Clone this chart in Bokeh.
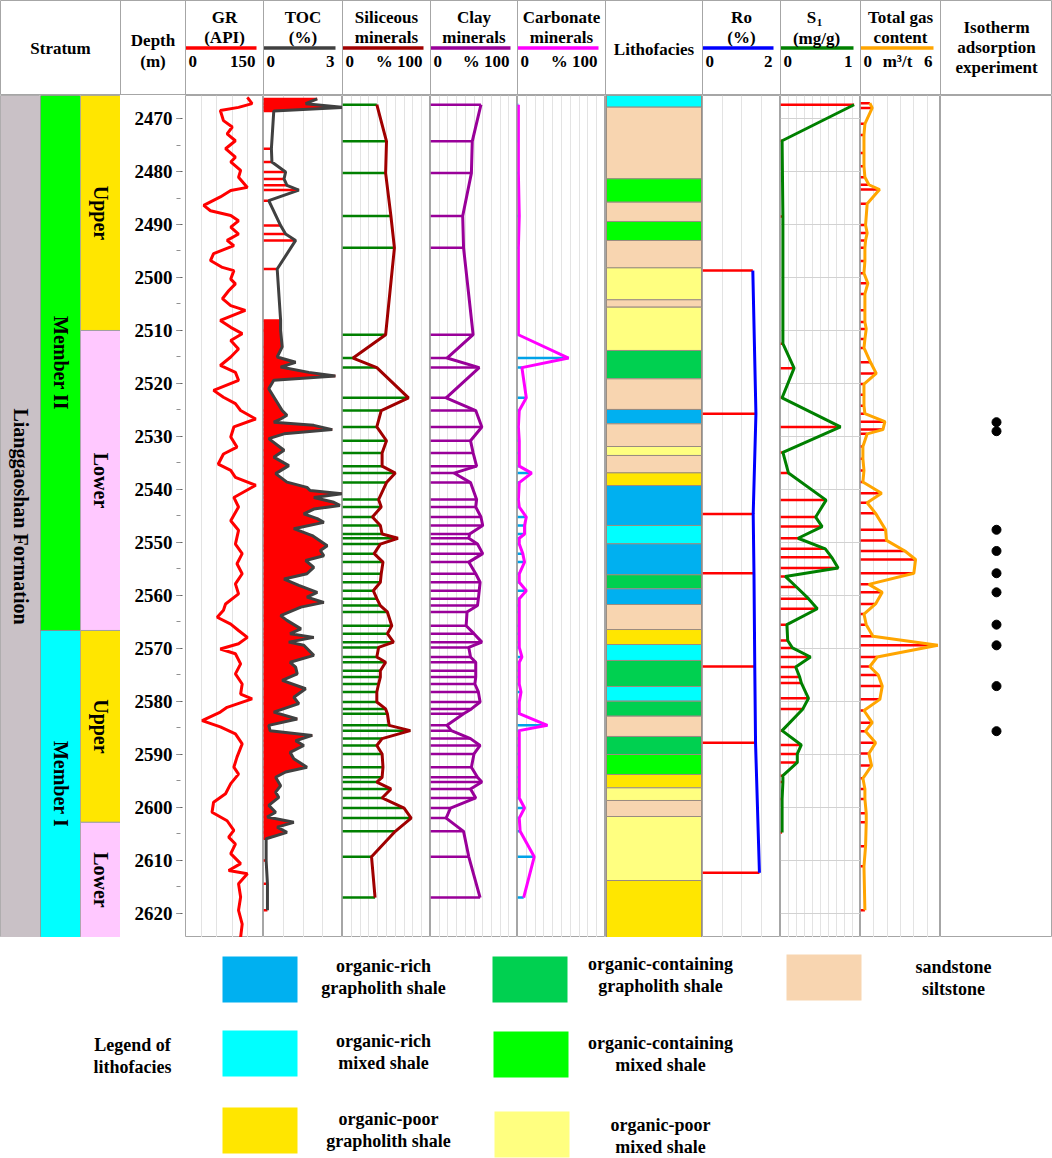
import math
from bokeh.plotting import figure
from bokeh.models import Range1d, FixedTicker, Span
from bokeh.layouts import row, column
from bokeh.embed import file_html
from bokeh.resources import INLINE
from bokeh.core.properties import value

# ------------------------------------------------------------------ data
DEPTH_TOP = 2465.66
DEPTH_BOTTOM = 2624.53
DEPTH_LABELS = list(range(2470, 2621, 10))
DEPTH_MINOR = list(range(2465, 2626, 5))

FORMATION = "Lianggaoshan Formation"
MEMBER_NAMES = ["Member II", "Member I"]
MEMBER_TOP = [2465.66, 2566.6]
MEMBER_BASE = [2566.6, 2624.53]
MEMBER_COLORS = ["#00FF00", "#00FFFF"]
SUB_NAMES = ["Upper", "Lower", "Upper", "Lower"]
SUB_TOP = [2465.66, 2510.0, 2566.6, 2602.8]
SUB_BASE = [2510.0, 2566.6, 2602.8, 2624.53]
SUB_COLORS = {"Upper": "#FFE600", "Lower": "#FFC8FF"}

GR_DEPTH = [2466.0, 2467.2, 2467.9, 2468.5, 2470.4, 2471.6, 2472.9, 2474.2, 2475.7, 2477.3,
            2478.2, 2479.8, 2481.1, 2483.0, 2483.6, 2484.8, 2486.4, 2487.4, 2488.3, 2489.3,
            2490.5, 2491.8, 2493.0, 2494.0, 2495.5, 2496.8, 2498.1, 2498.7, 2500.3, 2501.2,
            2502.5, 2504.0, 2505.3, 2506.2, 2508.1, 2509.4, 2510.6, 2511.9, 2513.5, 2515.0,
            2516.6, 2517.9, 2519.4, 2521.3, 2522.6, 2523.8, 2525.1, 2526.7, 2528.2, 2530.1,
            2532.0, 2533.3, 2535.2, 2536.4, 2537.7, 2539.2, 2541.5, 2543.3, 2545.9, 2547.7,
            2550.3, 2552.1, 2554.0, 2555.9, 2557.8, 2559.7, 2561.6, 2562.8, 2564.1, 2565.4,
            2566.6, 2567.9, 2569.1, 2570.1, 2571.0, 2572.9, 2574.8, 2576.7, 2578.6, 2579.5,
            2581.1, 2582.0, 2583.6, 2584.8, 2586.1, 2588.0, 2590.5, 2592.4, 2593.7, 2595.5,
            2597.4, 2599.0, 2600.9, 2602.5, 2604.3, 2605.6, 2606.9, 2608.7, 2610.6, 2611.9,
            2612.5, 2614.4, 2616.9, 2619.4, 2622.0, 2624.5]
GR_API = [119, 128, 102, 67, 73, 90, 80, 96, 77, 96,
          87, 106, 102, 119, 87, 67, 35, 48, 87, 102,
          87, 102, 80, 93, 54, 48, 71, 93, 87, 96,
          83, 71, 87, 115, 67, 87, 109, 87, 102, 87,
          67, 96, 102, 54, 73, 96, 106, 135, 93, 87,
          99, 73, 63, 87, 96, 135, 93, 102, 87, 102,
          96, 109, 99, 109, 96, 102, 77, 73, 61, 87,
          102, 119, 102, 67, 96, 106, 96, 109, 106, 128,
          80, 67, 32, 67, 96, 109, 99, 93, 102, 87,
          77, 54, 51, 80, 93, 83, 96, 87, 106, 83,
          119, 102, 106, 102, 109, 106]

TOC_DEPTH = [2466.3, 2467.2, 2467.9, 2468.6, 2475.7, 2478.2, 2480.1, 2481.4, 2482.6, 2483.5,
             2485.5, 2490.2, 2491.8, 2493.0, 2498.4, 2508.1, 2510.0, 2513.1, 2515.0, 2516.0,
             2516.9, 2517.9, 2518.6, 2519.4, 2521.0, 2525.1, 2526.0, 2526.7, 2527.3, 2527.9,
             2528.7, 2529.5, 2530.4, 2532.6, 2533.9, 2535.5, 2537.0, 2538.6, 2539.6, 2540.2,
             2540.8, 2541.5, 2542.4, 2543.0, 2543.7, 2544.6, 2545.5, 2546.2, 2547.4, 2548.7,
             2550.6, 2551.5, 2552.5, 2553.4, 2554.7, 2555.9, 2556.9, 2558.1, 2559.4, 2560.3,
             2561.3, 2562.2, 2563.8, 2564.7, 2566.3, 2567.2, 2567.9, 2568.8, 2569.4, 2571.3,
             2572.6, 2573.5, 2574.8, 2576.0, 2577.6, 2579.2, 2580.4, 2582.0, 2583.3, 2584.5,
             2585.5, 2586.4, 2587.4, 2588.3, 2589.6, 2590.8, 2592.4, 2593.3, 2594.3, 2595.9,
             2597.1, 2598.1, 2599.6, 2600.9, 2601.8, 2602.8, 2603.7, 2604.7, 2605.9, 2610.0,
             2614.4, 2619.4]
TOC_PCT = [2.04, 1.60, 3.00, 0.39, 0.30, 0.32, 0.84, 0.78, 0.89, 1.34,
           0.20, 0.65, 0.84, 1.22, 0.52, 0.65, 0.65, 0.71, 0.52, 1.22,
           0.65, 1.72, 2.73, 0.39, 0.20, 0.71, 0.89, 0.65, 0.39, 1.91,
           2.61, 0.78, 0.20, 0.78, 0.39, 0.96, 0.46, 0.89, 1.65, 1.77,
           3.00, 1.91, 2.67, 2.90, 1.91, 1.53, 2.04, 2.29, 1.15, 1.85,
           2.42, 2.16, 2.29, 1.60, 1.91, 1.65, 0.78, 1.34, 2.04, 1.65,
           2.29, 1.42, 0.65, 0.89, 1.42, 1.01, 1.91, 0.96, 1.53, 1.91,
           1.01, 1.22, 1.28, 0.71, 1.60, 1.15, 1.34, 0.39, 1.28, 0.20,
           0.25, 1.85, 1.22, 1.53, 1.01, 1.15, 1.65, 0.84, 0.46, 0.65,
           0.46, 0.58, 0.20, 0.46, 0.14, 1.15, 0.52, 0.89, 0.10, 0.10,
           0.15, 0.15]
TOC_DENSE_INTERVALS = [(2466.0, 2469.0), (2508.0, 2606.0)]

XRD_DEPTH = [2467.4, 2474.3, 2480.3, 2488.4, 2494.4, 2510.8, 2515.2, 2517.0, 2522.7, 2525.1,
             2528.2, 2530.8, 2533.1, 2535.6, 2536.9, 2538.7, 2541.9, 2543.3, 2545.2, 2546.8,
             2548.4, 2549.2, 2550.3, 2552.1, 2553.7, 2555.9, 2557.5, 2559.1, 2560.6, 2561.9,
             2563.1, 2565.7, 2567.2, 2568.8, 2569.8, 2571.6, 2572.6, 2574.2, 2575.4, 2576.7,
             2578.2, 2580.1, 2581.4, 2582.3, 2584.5, 2585.5, 2587.0, 2588.3, 2589.9, 2592.4,
             2594.3, 2595.2, 2596.5, 2598.2, 2600.1, 2602.0, 2604.5, 2609.3, 2617.0]
SILICEOUS = [39, 50, 49, 55, 59, 49, 12, 39, 75, 44,
             39, 50, 45, 45, 60, 50, 41, 44, 34, 43,
             45, 63, 43, 36, 46, 44, 43, 35, 39, 43,
             51, 56, 51, 58, 41, 39, 49, 43, 43, 41,
             39, 39, 49, 51, 53, 77, 45, 39, 45, 46,
             45, 39, 55, 45, 70, 78, 60, 33, 37]
CLAY = [58, 48, 47, 37, 38, 49, 19, 56, 18, 52,
        59, 46, 49, 53, 27, 46, 53, 52, 58, 60,
        45, 44, 54, 60, 44, 52, 57, 56, 55, 54,
        42, 41, 50, 59, 44, 46, 52, 52, 52, 51,
        55, 57, 47, 38, 19, 24, 46, 57, 50, 47,
        54, 59, 46, 52, 23, 18, 38, 44, 57]
CARBONATE = [1, 1, 1, 2, 1, 1, 58, 5, 10, 2,
             1, 2, 2, 2, 16, 2, 1, 2, 10, 8,
             8, 2, 2, 6, 8, 2, 2, 10, 2, 2,
             2, 2, 2, 2, 2, 5, 2, 2, 2, 2,
             4, 2, 2, 2, 34, 2, 2, 2, 2, 2,
             2, 2, 2, 2, 8, 2, 3, 19, 7]

LITHO_KEYS = ["rich_g", "cont_g", "sand", "rich_m", "cont_m", "poor_g", "poor_m"]
LITHO_LABELS = [["organic-rich", "grapholith shale"], ["organic-containing", "grapholith shale"],
                ["sandstone", "siltstone"], ["organic-rich", "mixed shale"],
                ["organic-containing", "mixed shale"], ["organic-poor", "grapholith shale"],
                ["organic-poor", "mixed shale"]]
LITHO_COLORS = ["#00B0F0", "#00D050", "#F8D5B0", "#00FFFF", "#00FF00", "#FFE600", "#FFFF80"]
LITHO_TOP = [2465.66, 2467.86, 2481.38, 2485.79, 2489.43, 2493.02, 2498.18, 2504.21, 2505.6, 2513.77,
             2519.12, 2524.9, 2527.61, 2531.89, 2533.58, 2536.86, 2539.25, 2546.79, 2550.25, 2556.10,
             2558.74, 2561.70, 2566.42, 2569.25, 2572.26, 2577.17, 2579.94, 2582.77, 2586.60, 2590.0,
             2593.77, 2596.29, 2598.68, 2601.7, 2613.78]
LITHO_TYPE = ["rich_m", "sand", "cont_m", "sand", "cont_m", "sand", "poor_m", "sand", "poor_m", "cont_g",
              "sand", "rich_g", "sand", "poor_m", "sand", "poor_g", "rich_g", "rich_m", "rich_g", "cont_g",
              "rich_g", "sand", "poor_g", "rich_m", "cont_g", "rich_m", "cont_g", "sand", "cont_g", "cont_m",
              "poor_g", "poor_m", "sand", "poor_m", "poor_g"]

RO_DEPTH = [2498.7, 2525.7, 2544.6, 2555.8, 2573.4, 2587.8, 2612.3]
RO_PCT = [1.29, 1.37, 1.30, 1.32, 1.34, 1.36, 1.46]

S1_DEPTH = [2467.4, 2474.2, 2488.5, 2512.5, 2517.1, 2522.7, 2528.2, 2533.0, 2536.9, 2542.0,
            2545.2, 2547.0, 2549.2, 2551.2, 2552.8, 2554.8, 2556.4, 2558.4, 2560.6, 2562.5,
            2565.5, 2568.5, 2569.9, 2571.6, 2573.5, 2575.4, 2576.5, 2579.4, 2581.4, 2585.5,
            2588.2, 2589.9, 2591.5, 2594.0, 2595.2, 2598.4, 2604.7]
S1_MG = [0.92, 0.02, 0.03, 0.03, 0.17, 0.02, 0.75, 0.03, 0.10, 0.57,
         0.44, 0.52, 0.22, 0.56, 0.64, 0.72, 0.06, 0.20, 0.35, 0.46,
         0.08, 0.09, 0.15, 0.375, 0.19, 0.24, 0.26, 0.35, 0.28, 0.02,
         0.26, 0.21, 0.21, 0.03, 0.03, 0.02, 0.02]

GAS_DEPTH = [2467.1, 2468.0, 2471.0, 2473.1, 2476.5, 2479.0, 2481.1, 2482.5, 2483.4, 2486.1,
             2490.1, 2491.6, 2493.0, 2494.4, 2496.9, 2499.2, 2501.1, 2503.1, 2506.2, 2508.4,
             2509.7, 2511.6, 2513.3, 2516.0, 2518.1, 2520.1, 2522.1, 2524.2, 2525.7, 2527.2,
             2528.7, 2529.5, 2531.9, 2534.2, 2536.4, 2538.6, 2540.7, 2542.5, 2544.5, 2547.6,
             2549.6, 2551.6, 2553.2, 2555.8, 2557.9, 2559.4, 2561.6, 2563.5, 2565.5, 2567.7,
             2569.4, 2571.6, 2573.4, 2575.0, 2577.1, 2579.6, 2581.7, 2584.0, 2585.6, 2587.8,
             2589.8, 2592.1, 2594.5, 2596.5, 2598.4, 2601.1, 2602.8, 2607.3, 2611.1, 2619.4]
GAS_M3T = [0.70, 0.88, 0.33, 0.26, 0.26, 0.26, 0.33, 0.63, 1.43, 0.50,
           0.38, 0.50, 0.38, 0.33, 0.33, 0.26, 0.55, 0.33, 0.33, 0.33,
           0.43, 0.33, 0.26, 0.75, 1.18, 0.26, 0.26, 0.26, 0.33, 1.83,
           1.68, 0.50, 0.18, 0.18, 0.26, 0.18, 1.58, 0.50, 1.13, 1.88,
           1.95, 3.33, 4.13, 4.00, 0.63, 1.63, 1.13, 0.26, 0.43, 0.93,
           5.80, 1.25, 0.70, 1.33, 1.63, 1.45, 0.26, 0.88, 0.38, 1.13,
           0.63, 0.83, 0.18, 0.33, 0.33, 0.43, 0.43, 0.38, 0.26, 0.33]

ISO_DEPTH = [2527.3, 2529.0, 2547.6, 2551.6, 2555.8, 2559.4, 2565.5, 2569.4, 2577.1, 2585.6]

# track header captions and scales
TRACK_TITLE = {"GR": ("GR", "(API)"), "TOC": ("TOC", "(%)"), "SIL": ("Siliceous", "minerals"),
               "CLAY": ("Clay", "minerals"), "CARB": ("Carbonate", "minerals"), "RO": ("Ro", "(%)"),
               "S1": ("S", "(mg/g)"), "GAS": ("Total gas", "content")}
TRACK_MIN = {"GR": 0, "TOC": 0, "SIL": 0, "CLAY": 0, "CARB": 0, "RO": 0, "S1": 0, "GAS": 0}
TRACK_MAX = {"GR": 150, "TOC": 3, "SIL": 100, "CLAY": 100, "CARB": 100, "RO": 2, "S1": 1, "GAS": 6}
TRACK_MAX_LABEL = {"GR": "150", "TOC": "3", "SIL": "% 100", "CLAY": "% 100", "CARB": "% 100",
                   "RO": "2", "S1": "1", "GAS": "6"}
TRACK_COLOR = {"GR": "#FF0000", "TOC": "#404040", "SIL": "#A00000", "CLAY": "#990099",
               "CARB": "#FF00FF", "RO": "#0000FF", "S1": "#008000", "GAS": "#FFA500"}

# ------------------------------------------------------------------ layout / style
FONT = value("Liberation Serif")
EDGES = [0, 120, 185, 263, 342, 430, 517, 605, 702, 780, 860, 940, 1052]
COLS = ["STRAT", "DEPTH", "GR", "TOC", "SIL", "CLAY", "CARB", "LITHO", "RO", "S1", "GAS", "ISO"]
STRAT_W = [40, 40, 40]
H_HEAD, H_TRACK, H_LEG = 95, 842, 221
BORDER = "#A6A6A6"
GRIDC = "#E3E3E3"
BAR_RED = "#FF0000"


def txt(**kw):
    d = dict(text_font=FONT, text_font_style="bold", text_font_size="17px", text_color="#000000",
             text_align="center", text_baseline="middle")
    d.update(kw)
    return d


yr = Range1d(start=DEPTH_BOTTOM, end=DEPTH_TOP)


def col_width(key):
    i = COLS.index(key)
    return EDGES[i + 1] - EDGES[i]


def frame(width, x0, x1, xticks=None, yticks=None, outline=True, yaxis=False, **kw):
    p = figure(width=width, height=H_TRACK, x_range=Range1d(x0, x1), y_range=yr,
               toolbar_location=None, x_axis_location=None,
               y_axis_location="left" if yaxis else None,
               min_border=0, output_backend="svg", **kw)
    p.outline_line_color = BORDER if outline else None
    p.background_fill_color = "white"
    p.border_fill_color = "white"
    if xticks:
        p.xgrid.ticker = FixedTicker(ticks=list(xticks))
        p.xgrid.grid_line_color = GRIDC
    else:
        p.xgrid.visible = False
    if yticks:
        p.ygrid.ticker = FixedTicker(ticks=list(yticks))
        p.ygrid.grid_line_color = "#D2D2D2"
    else:
        p.ygrid.visible = False
    return p


def bars(p, d, v, color, w=2.5):
    p.segment(x0=[0] * len(d), y0=d, x1=v, y1=d, line_color=color, line_width=w)


def ticks_for(key, n):
    hi = TRACK_MAX[key]
    return [hi * k / n for k in range(1, n)]


# ---- stratum columns
ROT = txt(text_font_size="20px")
s_form = frame(STRAT_W[0], 0, 1)
s_form.quad(left=0, right=1, top=DEPTH_TOP, bottom=DEPTH_BOTTOM, fill_color="#C9C1C6", line_color=None)
s_form.text(x=[0.5], y=[(DEPTH_TOP + DEPTH_BOTTOM) / 2], text=[FORMATION], angle=-math.pi / 2, **ROT)

s_mem = frame(STRAT_W[1], 0, 1)
s_mem.quad(left=0, right=1, top=MEMBER_TOP, bottom=MEMBER_BASE, fill_color=MEMBER_COLORS,
           line_color="#8C8C8C", line_width=1)
s_mem.text(x=[0.5] * len(MEMBER_NAMES), y=[(a + b) / 2 for a, b in zip(MEMBER_TOP, MEMBER_BASE)],
           text=MEMBER_NAMES, angle=-math.pi / 2, **ROT)

s_sub = frame(STRAT_W[2], 0, 1)
s_sub.quad(left=0, right=1, top=SUB_TOP, bottom=SUB_BASE, fill_color=[SUB_COLORS[n] for n in SUB_NAMES],
           line_color="#A0A0A0", line_width=1)
s_sub.text(x=[0.5] * len(SUB_NAMES), y=[(a + b) / 2 for a, b in zip(SUB_TOP, SUB_BASE)],
           text=SUB_NAMES, angle=-math.pi / 2, **ROT)

# ---- depth column
dp = frame(col_width("DEPTH"), 0, 1, outline=False, yaxis=True, min_border_left=56)
ax = dp.yaxis[0]
ax.ticker = FixedTicker(ticks=DEPTH_LABELS, minor_ticks=DEPTH_MINOR)
ax.axis_line_color = None
ax.major_tick_in = 6
ax.major_tick_out = 0
ax.minor_tick_in = 4
ax.minor_tick_out = 0
ax.major_tick_line_color = "#606060"
ax.minor_tick_line_color = "#909090"
ax.major_label_standoff = 4
ax.major_label_text_font = "Liberation Serif"
ax.major_label_text_font_style = "bold"
ax.major_label_text_font_size = "19px"
ax.major_label_text_color = "#000000"

# ---- GR
gr = frame(col_width("GR"), 0, TRACK_MAX["GR"], xticks=ticks_for("GR", 5))
gr.line(GR_API, GR_DEPTH, line_color=TRACK_COLOR["GR"], line_width=3)

# ---- TOC
toc = frame(col_width("TOC"), 0, TRACK_MAX["TOC"], xticks=ticks_for("TOC", 4))
for lo, hi in TOC_DENSE_INTERVALS:
    dd = [d for d in TOC_DEPTH if lo <= d <= hi]
    vv = [v for d, v in zip(TOC_DEPTH, TOC_PCT) if lo <= d <= hi]
    toc.harea(x1=[0] * len(dd), x2=vv, y=dd, fill_color=BAR_RED)
bars(toc, TOC_DEPTH, TOC_PCT, BAR_RED, 2.5)
toc.line(TOC_PCT, TOC_DEPTH, line_color=TRACK_COLOR["TOC"], line_width=3)

# ---- minerals
sil = frame(col_width("SIL"), 0, 100, xticks=ticks_for("SIL", 10))
bars(sil, XRD_DEPTH, SILICEOUS, "#008000", 2.5)
sil.line(SILICEOUS, XRD_DEPTH, line_color=TRACK_COLOR["SIL"], line_width=3)

clay = frame(col_width("CLAY"), 0, 100, xticks=ticks_for("CLAY", 10))
bars(clay, XRD_DEPTH, CLAY, "#990099", 2.5)
clay.line(CLAY, XRD_DEPTH, line_color=TRACK_COLOR["CLAY"], line_width=3)

carb = frame(col_width("CARB"), 0, 100, xticks=ticks_for("CARB", 10))
bars(carb, XRD_DEPTH, CARBONATE, "#00A2E8", 2.5)
carb.line(CARBONATE, XRD_DEPTH, line_color=TRACK_COLOR["CARB"], line_width=3)

# ---- lithofacies
lith = frame(col_width("LITHO"), 0, 1)
lith_base = LITHO_TOP[1:] + [DEPTH_BOTTOM]
cmap = dict(zip(LITHO_KEYS, LITHO_COLORS))
lith.quad(left=0.01, right=0.99, top=LITHO_TOP, bottom=lith_base,
          fill_color=[cmap[t] for t in LITHO_TYPE], line_color="#9A8C80", line_width=1)

# ---- Ro
ro = frame(col_width("RO"), 0, TRACK_MAX["RO"], xticks=ticks_for("RO", 4))
bars(ro, RO_DEPTH, RO_PCT, BAR_RED, 2.5)
ro.line(RO_PCT, RO_DEPTH, line_color=TRACK_COLOR["RO"], line_width=3)

# ---- S1
s1 = frame(col_width("S1"), 0, TRACK_MAX["S1"], xticks=ticks_for("S1", 10), yticks=DEPTH_LABELS)
bars(s1, S1_DEPTH, S1_MG, BAR_RED, 2.5)
s1.line(S1_MG, S1_DEPTH, line_color=TRACK_COLOR["S1"], line_width=3)

# ---- gas
gas = frame(col_width("GAS"), 0, TRACK_MAX["GAS"], xticks=ticks_for("GAS", 6))
bars(gas, GAS_DEPTH, GAS_M3T, BAR_RED, 2.5)
gas.line(GAS_M3T, GAS_DEPTH, line_color=TRACK_COLOR["GAS"], line_width=3)

# ---- isotherm
iso = frame(col_width("ISO"), 0, 1)
iso.scatter(x=[0.5] * len(ISO_DEPTH), y=ISO_DEPTH, size=9, color="#000000")

# ------------------------------------------------------------------ header
hd = figure(width=EDGES[-1] - EDGES[0], height=H_HEAD, x_range=Range1d(EDGES[0], EDGES[-1]),
            y_range=Range1d(95, 0), toolbar_location=None, x_axis_location=None,
            y_axis_location=None, min_border=0, output_backend="svg")
hd.xgrid.visible = False
hd.ygrid.visible = False
hd.outline_line_color = BORDER
for e in EDGES[1:-1]:
    hd.add_layout(Span(location=e, dimension="height", line_color=BORDER, line_width=1))


def cx(key):
    i = COLS.index(key)
    return (EDGES[i] + EDGES[i + 1]) / 2


hx, hy, ht = [cx("STRAT")], [48], ["Stratum"]
hx += [cx("DEPTH"), cx("DEPTH")]
hy += [40, 61]
ht += ["Depth", "(m)"]
hx.append(cx("LITHO")); hy.append(49); ht.append("Lithofacies")
for yy, t in zip([27, 47, 67], ["Isotherm", "adsorption", "experiment"]):
    hx.append(cx("ISO")); hy.append(yy); ht.append(t)

lx, ly, lt, rx, rt = [], [], [], [], []
for key in ["GR", "TOC", "SIL", "CLAY", "CARB", "RO", "S1", "GAS"]:
    i = COLS.index(key)
    x0, x1 = EDGES[i], EDGES[i + 1]
    t1, t2 = TRACK_TITLE[key]
    if key == "S1":
        hx.append(cx(key) - 9); hy.append(17); ht.append(t1)
        hd.text(x=[cx(key) - 1], y=[22], text=["1"], **txt(text_font_size="11px"))
        hx.append(cx(key) - 4); hy.append(38); ht.append(t2)
    else:
        hx += [cx(key), cx(key)]
        hy += [17, 37]
        ht += [t1, t2]
    hd.segment(x0=[x0], y0=[47.5], x1=[x1 - 7], y1=[47.5], line_color=TRACK_COLOR[key], line_width=3.5)
    lx.append(x0 + 3); ly.append(61); lt.append(str(TRACK_MIN[key]))
    rx.append(x1 - 8); rt.append(TRACK_MAX_LABEL[key])
hd.text(x=hx, y=hy, text=ht, **txt())
hd.text(x=lx, y=ly, text=lt, **txt(text_align="left"))
hd.text(x=rx, y=ly, text=rt, **txt(text_align="right"))
hd.text(x=[cx("GAS") - 3], y=[61], text=["m³/t"], **txt())

# ------------------------------------------------------------------ legend
lg = figure(width=EDGES[-1] - EDGES[0], height=H_LEG, x_range=Range1d(EDGES[0], EDGES[-1]),
            y_range=Range1d(1158, 937), toolbar_location=None, x_axis_location=None,
            y_axis_location=None, min_border=0, output_backend="svg")
lg.xgrid.visible = False
lg.ygrid.visible = False
lg.outline_line_color = None

LEG_BOX = {"rich_g": (222, 956), "cont_g": (492, 956), "sand": (786, 954),
           "rich_m": (222, 1030), "cont_m": (493, 1031), "poor_g": (222, 1107), "poor_m": (494, 1111)}
LEG_TXT = {"rich_g": (383, 965), "cont_g": (660, 963), "sand": (953, 966),
           "rich_m": (383, 1040), "cont_m": (660, 1042), "poor_g": (388, 1118), "poor_m": (660, 1124)}
BOX_W, BOX_H = 75, 46
bl, bt, bc = [], [], []
tx, ty, tt = [132, 132], [1044, 1066], ["Legend of", "lithofacies"]
for key, lab, colr in zip(LITHO_KEYS, LITHO_LABELS, LITHO_COLORS):
    x0, y0 = LEG_BOX[key]
    bl.append(x0); bt.append(y0); bc.append(colr)
    x, y = LEG_TXT[key]
    tx += [x, x]; ty += [y, y + 22.5]; tt += lab
lg.quad(left=bl, right=[b + BOX_W for b in bl], top=bt, bottom=[b + BOX_H for b in bt],
        fill_color=bc, line_color=None)
lg.text(x=tx, y=ty, text=tt, **txt(text_font_size="18px"))

tracks = row(s_form, s_mem, s_sub, dp, gr, toc, sil, clay, carb, lith, ro, s1, gas, iso)
layout = column(hd, tracks, lg)
open("out.html", "w").write(file_html(layout, INLINE, title="Well log"))
